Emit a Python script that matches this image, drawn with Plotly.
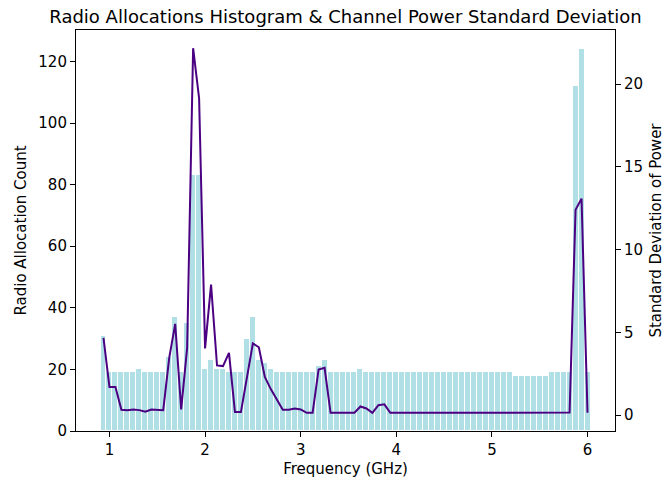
import numpy as np
import plotly.graph_objects as go

# Channel centre frequencies (GHz), 62.5 MHz raster
freq_start = 0.9375
freq_step = 0.0625
n_channels = 82
freqs = [round(freq_start + freq_step * i, 4) for i in range(n_channels)]

# Number of radio allocations per channel bin
alloc_counts = [
    31, 19, 19, 19, 19, 19, 20, 19, 19, 19,
    19, 24, 37, 19, 35, 83, 83, 20, 23, 20,
    20, 19, 19, 19, 30, 37, 23, 22, 20, 19,
    19, 19, 19, 19, 19, 19, 21, 23, 19, 19,
    19, 19, 19, 20, 19, 19, 19, 19, 19, 19,
    19, 19, 19, 19, 19, 19, 19, 19, 19, 19,
    19, 19, 19, 19, 19, 19, 19, 19, 19, 18,
    18, 18, 18, 18, 18, 19, 19, 19, 19, 112,
    124, 19,
]

# Standard deviation of measured channel power
power_std = [
    4.67, 1.69, 1.69, 0.32, 0.30, 0.34, 0.30, 0.20, 0.34, 0.34,
    0.30, 3.46, 5.51, 0.34, 4.07, 22.17, 19.15, 4.03, 7.89, 3.00,
    2.96, 3.76, 0.18, 0.18, 2.30, 4.33, 4.10, 2.30, 1.57, 0.92,
    0.33, 0.33, 0.40, 0.34, 0.14, 0.14, 2.76, 2.86, 0.14, 0.14,
    0.14, 0.14, 0.14, 0.52, 0.40, 0.14, 0.60, 0.65, 0.14, 0.14,
    0.14, 0.14, 0.14, 0.15, 0.15, 0.16, 0.18, 0.18, 0.18, 0.18,
    0.18, 0.18, 0.18, 0.18, 0.18, 0.18, 0.17, 0.16, 0.16, 0.16,
    0.16, 0.16, 0.16, 0.16, 0.16, 0.16, 0.16, 0.16, 0.15, 12.41,
    13.08, 0.14,
]

x_ticks = [1, 2, 3, 4, 5, 6]
y_ticks = [0, 20, 40, 60, 80, 100, 120]
y2_ticks = [0, 5, 10, 15, 20]

FONT = "DejaVu Sans"
BAR_COLOR = "#b0e0e6"
LINE_COLOR = "#4b0082"
LABEL_SIZE = 15
TITLE_SIZE = 18

# Axis limits with 5% padding around the data, like the matplotlib default
lo_edge = freqs[0] - freq_step / 2
hi_edge = freqs[-1] + freq_step / 2
span = hi_edge - lo_edge
x_range = [lo_edge - 0.05 * span, hi_edge + 0.05 * span]
y_range = [0, max(alloc_counts) * 1.05]
s_lo, s_hi = min(power_std), max(power_std)
s_span = s_hi - s_lo
y2_range = [s_lo - 0.05 * s_span, s_hi + 0.05 * s_span]

fig = go.Figure()
fig.add_trace(go.Bar(
    x=freqs, y=alloc_counts, width=freq_step,
    marker=dict(color=BAR_COLOR, line=dict(color="white", width=1)),
    yaxis="y", showlegend=False,
))
fig.add_trace(go.Scatter(
    x=freqs, y=power_std, mode="lines",
    line=dict(color=LINE_COLOR, width=2),
    yaxis="y2", showlegend=False,
))

tick_font = dict(family=FONT, size=LABEL_SIZE, color="black")
label_font = dict(family=FONT, size=LABEL_SIZE, color="black")
axis_common = dict(
    showgrid=False, zeroline=False, showline=True, linecolor="black",
    linewidth=1.1, ticks="outside", ticklen=5, tickwidth=1.1,
    tickcolor="black", tickfont=tick_font, automargin=False,
)

fig.update_layout(
    width=665, height=483,
    margin=dict(l=76, r=50, t=30, b=52),
    paper_bgcolor="white", plot_bgcolor="white",
    bargap=0,
    font=dict(family=FONT, color="black"),
    title=dict(
        text="Radio Allocations Histogram & Channel Power Standard Deviation",
        font=dict(family=FONT, size=TITLE_SIZE, color="black"),
        x=0.5, xref="paper", xanchor="center",
        y=1, yref="paper", yanchor="bottom", pad=dict(b=7),
    ),
    xaxis=dict(
        range=x_range, tickvals=x_ticks, mirror=True,
        title=dict(text="Frequency (GHz)", font=label_font, standoff=5),
        **axis_common,
    ),
    yaxis=dict(
        range=y_range, tickvals=y_ticks,
        title=dict(text="Radio Allocation Count", font=label_font,
                   standoff=8),
        **axis_common,
    ),
    yaxis2=dict(
        range=y2_range, tickvals=y2_ticks, overlaying="y", side="right",
        title=dict(text="Standard Deviation of Power", font=label_font,
                   standoff=10),
        **axis_common,
    ),
)

fig.write_html("out.html")
